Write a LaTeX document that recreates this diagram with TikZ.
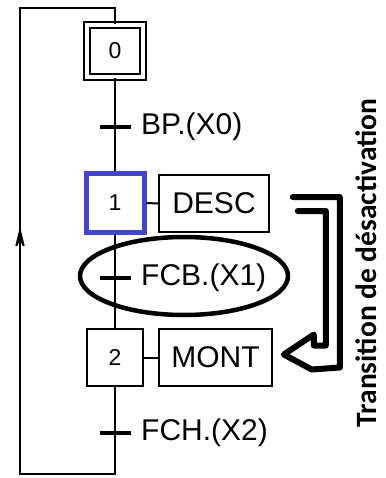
\documentclass[tikz,border=0pt]{standalone}
\usepackage{fontspec}
\setmainfont{Liberation Sans}
\newfontfamily\carlito{Carlito}
\usetikzlibrary{arrows.meta,calc}
\definecolor{stepblue}{RGB}{68,68,204}
\begin{document}
\begin{tikzpicture}[x=1pt,y=-1pt,
  wire/.style={line width=2pt},
  stepbox/.style={draw,line width=1.6pt,minimum width=56pt,minimum height=57pt,inner sep=0pt,font=\fontsize{23}{25}\selectfont},
  actbox/.style={draw,line width=1.6pt,minimum height=57pt,inner sep=0pt,font=\fontsize{30}{32}\selectfont},
  tick/.style={line width=3.8pt},
  tlabel/.style={anchor=west,inner sep=0pt,font=\fontsize{30}{32}\selectfont}]
\useasboundingbox (0,0) rectangle (385,478);
% steps
\node[stepbox,double,double distance=4.5pt,line width=1.6pt,minimum width=56pt,minimum height=52pt] (s0) at (115,51) {0};
\node[stepbox,draw=stepblue,line width=5pt,minimum width=58pt,minimum height=58pt] (s1) at (115,203) {1};
\node[stepbox] (s2) at (115,357.5) {2};
% actions
\node[actbox,minimum width=110pt] (a1) at (214,203.5) {DESC};
\node[actbox,minimum width=113pt] (a2) at (215.5,357.5) {MONT};
% transitions
\coordinate (t0) at (115,127);
\coordinate (t1) at (115,278);
\coordinate (t2) at (115,433);
\coordinate (bl) at (20,474);
\coordinate (tl) at (20,8);
\coordinate (arr) at (20,227);
% links
\draw[wire] (s0.south) -- (s1.north);
\draw[wire] (s1.south) -- (s2.north);
\draw[wire] (s2.south) -- (s2.south |- bl) -- (bl) -- (tl) -- (tl -| s0.north) -- (s0.north);
\draw[wire,-{Stealth[length=30pt,width=15pt,inset=17pt]}] (bl) -- (arr);
\draw[wire] (s1.east) -- (a1.west);
\draw[wire] (s2.east) -- (a2.west);
% ticks and labels
\foreach \t/\lab in {t0/{BP.(X0)},t1/{FCB.(X1)},t2/{FCH.(X2)}}{
  \draw[tick] ($(\t)+(-15,0)$) -- ($(\t)+(16,0)$);
  \node[tlabel] (l\t) at ($(\t)+(26,0)$) {\lab};
}
% ellipse
\draw[line width=4.5pt] (184,276) ellipse [x radius=104, y radius=39];
% hollow double arrow from DESC to MONT
\draw[line width=6pt,line cap=round,line join=round]
  ($(a1.east)+(23,-6.5)$) -- ($(a1.east)+(70,-6.5)$) -- ($(a2.east)+(67,10)$)
  -- ($(a2.east)+(39,12)$) -- ($(a2.east)+(11,-3)$) -- ($(a2.east)+(41,-23)$)
  -- ($(a2.east)+(41,-12)$) -- ($(a2.east)+(53,-12)$) -- ($(a1.east)+(56,7.5)$)
  -- ($(a1.east)+(28,7.5)$);
% vertical text
\node[rotate=90,inner sep=0pt,font=\carlito\bfseries\fontsize{29.5}{31}\selectfont] (vt) at (366,263) {Transition de désactivation};
\end{tikzpicture}
\end{document}
